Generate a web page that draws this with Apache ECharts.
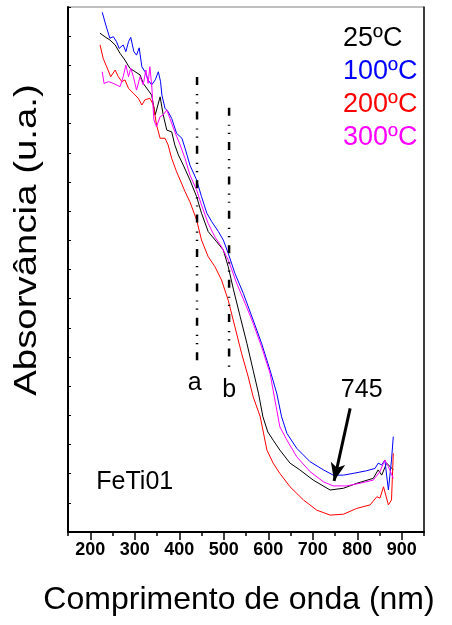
<!DOCTYPE html>
<html><head><meta charset="utf-8">
<script src="https://cdn.jsdelivr.net/npm/echarts@6/dist/echarts.min.js"></script>
<style>html,body{margin:0;padding:0;background:#fff}#c{width:452px;height:625px}</style>
</head><body><div id="c"></div>
<script>
// ---- data (wavelength nm / absorbance, arbitrary units) ----
const seriesNames = ['25ºC', '100ºC', '200ºC', '300ºC'];
const wl25 = [222,233,244,256,267,278,289,301,312,319,330,338,346,357,364,372,383,390,398,409,424,439,450,465,484,499,510,522,537,552,566,578,588,599,611,626,649,671,701,739,769,799,836,847,855,866,874,881];
const abs25 = [17.10,16.98,16.87,16.70,16.41,16.18,15.90,15.78,15.67,15.38,15.15,14.98,14.30,14.92,14.30,13.78,13.72,13.27,12.93,12.58,12.07,11.50,10.93,10.30,9.95,9.67,9.10,8.30,7.38,6.47,5.55,4.76,3.95,3.43,3.15,2.81,2.36,2.13,1.78,1.44,1.50,1.67,1.84,2.13,1.95,2.36,2.24,2.13];
const wl100 = [227,235,244,252,259,265,274,280,286,291,298,304,310,316,323,330,338,346,353,358,361,368,375,383,394,406,413,424,439,450,462,473,488,499,510,525,544,566,585,604,619,630,642,664,694,724,746,769,791,821,840,847,855,862,870,874,877,881];
const abs100 = [17.82,17.38,16.93,16.98,16.81,16.58,16.70,16.47,16.81,16.96,16.47,16.35,16.60,15.95,15.78,15.50,15.33,15.50,15.78,15.44,14.98,14.53,14.41,14.18,13.67,13.50,13.16,12.58,12.07,11.50,10.93,10.64,10.30,10.01,9.56,8.87,8.18,7.27,6.47,5.55,4.76,3.95,3.38,2.87,2.41,2.13,1.95,1.95,2.01,2.10,2.18,2.36,2.30,2.47,1.44,1.44,2.47,3.27];
const wl200 = [222,229,237,246,256,263,271,278,286,297,308,316,323,334,342,349,357,368,375,383,394,402,413,424,439,450,465,480,495,510,525,540,555,566,582,597,611,626,649,679,709,739,769,799,829,844,851,859,870,877,881];
const abs200 = [16.70,16.24,15.95,15.61,15.84,15.61,15.44,15.50,15.21,15.04,14.87,14.64,14.82,14.87,14.64,13.95,13.50,13.50,13.27,12.81,12.35,12.07,11.67,11.32,10.70,10.01,9.44,9.10,8.64,7.95,7.04,6.13,5.32,4.64,3.95,2.81,2.36,2.01,1.55,1.10,0.75,0.58,0.61,0.81,0.93,1.21,1.16,1.55,0.93,1.10,2.70];
const wl300 = [227,231,241,252,267,274,280,286,291,297,304,312,319,325,330,334,338,343,349,357,364,372,379,390,402,413,424,439,450,465,480,495,510,529,548,566,585,604,626,642,664,694,724,746,776,806,836,851,862,870,881];
const abs300 = [15.78,15.38,15.44,15.38,15.27,15.61,16.01,15.61,15.90,15.61,15.15,15.61,15.33,15.84,15.38,15.95,15.33,14.13,13.90,14.24,14.30,14.47,14.18,13.72,13.27,12.81,12.24,11.73,11.21,10.58,10.12,9.78,9.33,8.53,7.84,7.16,6.35,5.44,3.61,3.15,2.58,2.07,1.72,1.58,1.58,1.67,1.78,2.07,2.47,2.24,1.84];
const xMajorTicks = [200,300,400,500,600,700,800,900];
// annotation lines a / b (dash-dot), arrow to 745 nm, text labels
const lineAX = [440, 440], lineAY = [15.6, 5.85];
const lineBX = [512, 512], lineBY = [14.55, 5.65];
const arrowX = [784, 748], arrowY = [4.24, 1.75];
const noteText = ['a', 'b', '745', 'FeTi01'];
const noteX = [435, 512, 810, 300];
const noteY = [5.12, 4.87, 4.87, 1.71];

const colors = ['#000000', '#0000ff', '#ff0000', '#ff00ff'];
const FONT = '"Liberation Sans", Arial, sans-serif';
const zip = (a, b) => a.map((v, i) => [v, b[i]]);
const specData = [zip(wl25, abs25), zip(wl100, abs100), zip(wl200, abs200), zip(wl300, abs300)];

const chart = echarts.init(document.getElementById('c'), null, {renderer: 'canvas'});
const dashDot = [8, 9, 1.2, 7, 1.2, 8];
const series = specData.map((d, i) => ({
  type: 'line', name: seriesNames[i], data: d, symbol: 'none', silent: true,
  lineStyle: {color: colors[i], width: 1}, itemStyle: {color: colors[i]}
}));
series.push({type: 'line', name: 'lineA', data: zip(lineAX, lineAY), symbol: 'none', silent: true,
  lineStyle: {color: '#000', width: 2.5, type: dashDot}});
series.push({type: 'line', name: 'lineB', data: zip(lineBX, lineBY), symbol: 'none', silent: true,
  lineStyle: {color: '#000', width: 2.5, type: dashDot}});
series.push({type: 'scatter', name: 'notes', silent: true, symbolSize: 1,
  itemStyle: {color: 'rgba(0,0,0,0)', opacity: 1},
  data: noteText.map((t, i) => ({name: t, value: [noteX[i], noteY[i]]})),
  label: {show: true, position: 'inside', formatter: '{b}', fontSize: 25, color: '#000000',
    opacity: 1, textBorderWidth: 0, fontFamily: FONT},
  markLine: {silent: true, symbol: ['none', 'arrow'], symbolSize: [11, 18], animation: false,
    lineStyle: {color: '#000', width: 3, type: 'solid'}, label: {show: false},
    data: [[{coord: [arrowX[0], arrowY[0]]}, {coord: [arrowX[1], arrowY[1]]}]]}
});

chart.setOption({
  animation: false,
  backgroundColor: '#fff',
  grid: {left: 68, top: 7, right: 28, bottom: 93, show: true, borderColor: '#808080', borderWidth: 1},
  legend: {orient: 'vertical', left: 338, top: 25, itemWidth: 0, itemHeight: 0, itemGap: 6, padding: 0,
    selectedMode: false, icon: 'rect',
    data: seriesNames.map((n, i) => ({name: n, textStyle: {color: colors[i]}})),
    textStyle: {fontSize: 27, fontFamily: FONT}},
  xAxis: [
    {type: 'value', min: 150, max: 950, interval: 50, position: 'bottom',
      axisLine: {show: true, lineStyle: {color: '#000', width: 2}},
      axisTick: {show: true, length: 4, lineStyle: {color: '#000', width: 1.5}},
      axisLabel: {show: false}, splitLine: {show: false}},
    {type: 'value', min: 150, max: 950, position: 'bottom',
      axisLine: {show: false},
      axisTick: {show: true, customValues: xMajorTicks, length: 8, lineStyle: {color: '#000', width: 1.5}},
      axisLabel: {show: true, customValues: xMajorTicks, fontSize: 18, fontWeight: 'bold', color: '#000', fontFamily: FONT, margin: 9},
      splitLine: {show: false}}
  ],
  yAxis: [
    {type: 'value', min: 0, max: 18, interval: 1,
      axisLine: {show: true, lineStyle: {color: '#000', width: 2}},
      axisTick: {show: true, inside: true, length: 3, lineStyle: {color: '#000', width: 1}},
      axisLabel: {show: false}, splitLine: {show: false}},
    {type: 'value', min: 0, max: 18, position: 'right',
      axisLine: {show: true, lineStyle: {color: '#111', width: 1.5}},
      axisTick: {show: false}, axisLabel: {show: false}, splitLine: {show: false}}
  ],
  graphic: [
    {type: 'text', x: 27, y: 240, rotation: Math.PI / 2, scaleX: 1.2, silent: true,
      style: {text: 'Absorvância (u.a.)', fontSize: 32, fontFamily: FONT, fill: '#000', textAlign: 'center', textVerticalAlign: 'middle'}},
    {type: 'text', x: 239, y: 600, silent: true,
      style: {text: 'Comprimento de onda (nm)', fontSize: 32, fontFamily: FONT, fill: '#000', textAlign: 'center', textVerticalAlign: 'middle'}}
  ],
  series: series
});
</script></body></html>
